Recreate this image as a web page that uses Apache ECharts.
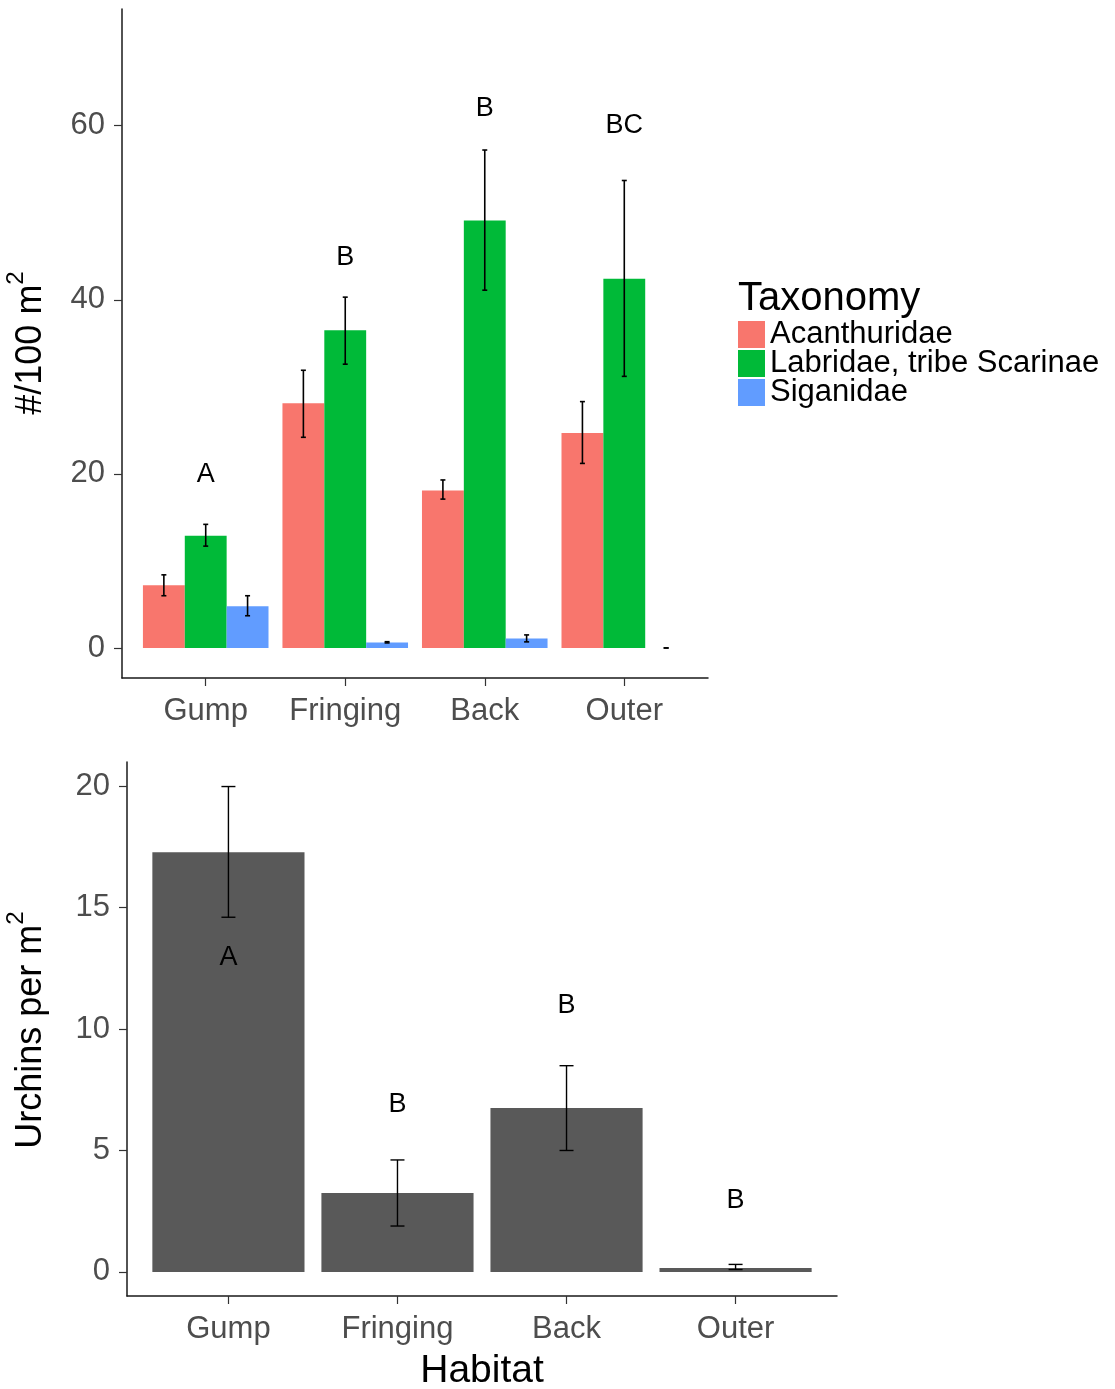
<!DOCTYPE html>
<html><head><meta charset="utf-8">
<script src="https://cdn.jsdelivr.net/npm/echarts@6/dist/echarts.min.js"></script>
<style>html,body{margin:0;padding:0;background:#fff}#c{width:1115px;height:1389px}</style>
</head><body><div id="c"></div>
<script>
// ---- data ----
const habitats = ['Gump', 'Fringing', 'Back', 'Outer'];
const taxa = ['Acanthuridae', 'Labridae, tribe Scarinae', 'Siganidae'];
const acanth   = [7.2, 28.1, 18.1, 24.7];
const acanthLo = [6.0, 24.2, 17.1, 21.2];
const acanthHi = [8.4, 31.9, 19.3, 28.3];
const labr     = [12.9, 36.5, 49.1, 42.4];
const labrLo   = [11.7, 32.6, 41.1, 31.2];
const labrHi   = [14.2, 40.3, 57.2, 53.7];
const sigan    = [4.8, 0.64, 1.1, 0];
const siganLo  = [3.7, 0.58, 0.7, 0];
const siganHi  = [6.0, 0.72, 1.5, 0];
const fishLetters = ['A', 'B', 'B', 'BC'];
const fishLetterY = [19.9, 44.9, 62.0, 60.0];
const fishTicks = [0, 20, 40, 60];
const urchin   = [17.28, 3.25, 6.75, 0.16];
const urchinLo = [14.6, 1.89, 5.0, 0.1];
const urchinHi = [19.98, 4.61, 8.49, 0.31];
const urchinLetters = ['A', 'B', 'B', 'B'];
const urchinLetterY = [12.95, 6.9, 10.96, 2.93];
const urchinTicks = [0, 5, 10, 15, 20];
const catPos = [1, 2, 3, 4];

const FONT = '"Liberation Sans", Arial, Helvetica, sans-serif';
const colors = ['#F8766D', '#00BA38', '#619CFF'];

function barSeries(name, vals, offset, halfW, color, gi) {
  return {
    type: 'custom', name: name, xAxisIndex: gi, yAxisIndex: gi,
    itemStyle: { color: color }, silent: true,
    data: vals.map((v, i) => [catPos[i], v]),
    encode: { x: 0, y: 1 },
    renderItem: function (params, api) {
      const x = api.value(0) + offset, v = api.value(1);
      const p0 = api.coord([x - halfW, v]);
      const p1 = api.coord([x + halfW, 0]);
      return { type: 'rect', shape: { x: p0[0], y: p0[1], width: p1[0] - p0[0], height: p1[1] - p0[1] }, style: { fill: color } };
    }
  };
}
function errSeries(lo, hi, offset, capHalf, lw, gi) {
  return {
    type: 'custom', xAxisIndex: gi, yAxisIndex: gi, silent: true, z: 5,
    data: lo.map((l, i) => [catPos[i], l, hi[i]]),
    encode: { x: 0, y: [1, 2] },
    renderItem: function (params, api) {
      const x = api.value(0) + offset;
      const a = api.coord([x, api.value(1)]), b = api.coord([x, api.value(2)]);
      const st = { stroke: '#000', lineWidth: lw };
      return { type: 'group', children: [
        { type: 'line', shape: { x1: a[0], y1: a[1], x2: b[0], y2: b[1] }, style: st },
        { type: 'line', shape: { x1: a[0] - capHalf, y1: a[1], x2: a[0] + capHalf, y2: a[1] }, style: st },
        { type: 'line', shape: { x1: b[0] - capHalf, y1: b[1], x2: b[0] + capHalf, y2: b[1] }, style: st }
      ]};
    }
  };
}
function letterSeries(letters, ys, gi) {
  return {
    type: 'custom', xAxisIndex: gi, yAxisIndex: gi, silent: true, z: 6,
    data: ys.map((y, i) => [catPos[i], y]),
    encode: { x: 0, y: 1 },
    renderItem: function (params, api) {
      const p = api.coord([api.value(0), api.value(1)]);
      return { type: 'text', x: p[0], y: p[1], style: { text: letters[params.dataIndex], fill: '#000', font: '27px ' + FONT, align: 'center', verticalAlign: 'middle' } };
    }
  };
}
function xAxisDef(gi) {
  return {
    gridIndex: gi, type: 'value', min: 0.4, max: 4.6,
    splitLine: { show: false },
    axisLine: { show: true, onZero: false, lineStyle: { color: '#1a1a1a', width: 1.5 } },
    axisTick: { show: true, customValues: catPos, length: 8, lineStyle: { color: '#333', width: 1.2 } },
    axisLabel: { customValues: catPos, formatter: v => habitats[Math.round(v) - 1], fontSize: 31, color: '#4D4D4D', margin: 18, fontFamily: FONT }
  };
}
function yAxisDef(gi, min, max, ticks) {
  return {
    gridIndex: gi, type: 'value', min: min, max: max,
    splitLine: { show: false },
    axisLine: { show: true, onZero: false, lineStyle: { color: '#1a1a1a', width: 1.5 } },
    axisTick: { show: true, customValues: ticks, length: 8, lineStyle: { color: '#333', width: 1.2 } },
    axisLabel: { customValues: ticks, fontSize: 31, color: '#4D4D4D', margin: 17, fontFamily: FONT }
  };
}
function yTitle(main, x, y) {
  return { type: 'text', x: x, y: y, rotation: Math.PI / 2, style: {
    text: '{a|' + main + '}{s|2}', align: 'center', verticalAlign: 'middle',
    rich: { a: { fontSize: 36, fontFamily: FONT, fill: '#000', lineHeight: 53 },
            s: { fontSize: 24, fontFamily: FONT, fill: '#000', lineHeight: 24, verticalAlign: 'top' } } } };
}

const chart = echarts.init(document.getElementById('c'), null, { renderer: 'canvas' });
chart.setOption({
  animation: false,
  backgroundColor: '#fff',
  grid: [
    { left: 122, width: 586, top: 9, height: 669 },
    { left: 127, width: 710, top: 762, height: 534 }
  ],
  xAxis: [xAxisDef(0), xAxisDef(1)],
  yAxis: [yAxisDef(0, -3.45, 73.4, fishTicks), yAxisDef(1, -0.99, 20.99, urchinTicks)],
  legend: {
    orient: 'vertical', left: 738, top: 319, padding: 0,
    itemWidth: 27, itemHeight: 27, itemGap: -2, icon: 'rect',
    selectedMode: false,
    textStyle: { fontSize: 31, color: '#000', fontFamily: FONT },
    data: taxa.map((t, i) => ({ name: t, itemStyle: { color: colors[i] } }))
  },
  graphic: [
    { type: 'text', left: 738, top: 279, style: { text: 'Taxonomy', font: '40px ' + FONT, fill: '#000' } },
    yTitle('#/100 m', 31, 343),
    yTitle('Urchins per m', 31, 1030),
    { type: 'text', x: 482, y: 1371, style: { text: 'Habitat', font: '39px ' + FONT, fill: '#000', align: 'center', verticalAlign: 'middle' } }
  ],
  series: [
    barSeries(taxa[0], acanth, -0.3, 0.15, colors[0], 0),
    barSeries(taxa[1], labr, 0, 0.15, colors[1], 0),
    barSeries(taxa[2], sigan, 0.3, 0.15, colors[2], 0),
    errSeries(acanthLo, acanthHi, -0.3, 2.5, 1.6, 0),
    errSeries(labrLo, labrHi, 0, 2.5, 1.6, 0),
    errSeries(siganLo, siganHi, 0.3, 2.5, 1.6, 0),
    letterSeries(fishLetters, fishLetterY, 0),
    barSeries('Urchins', urchin, 0, 0.45, '#595959', 1),
    errSeries(urchinLo, urchinHi, 0, 7, 1.4, 1),
    letterSeries(urchinLetters, urchinLetterY, 1)
  ]
});
</script></body></html>
